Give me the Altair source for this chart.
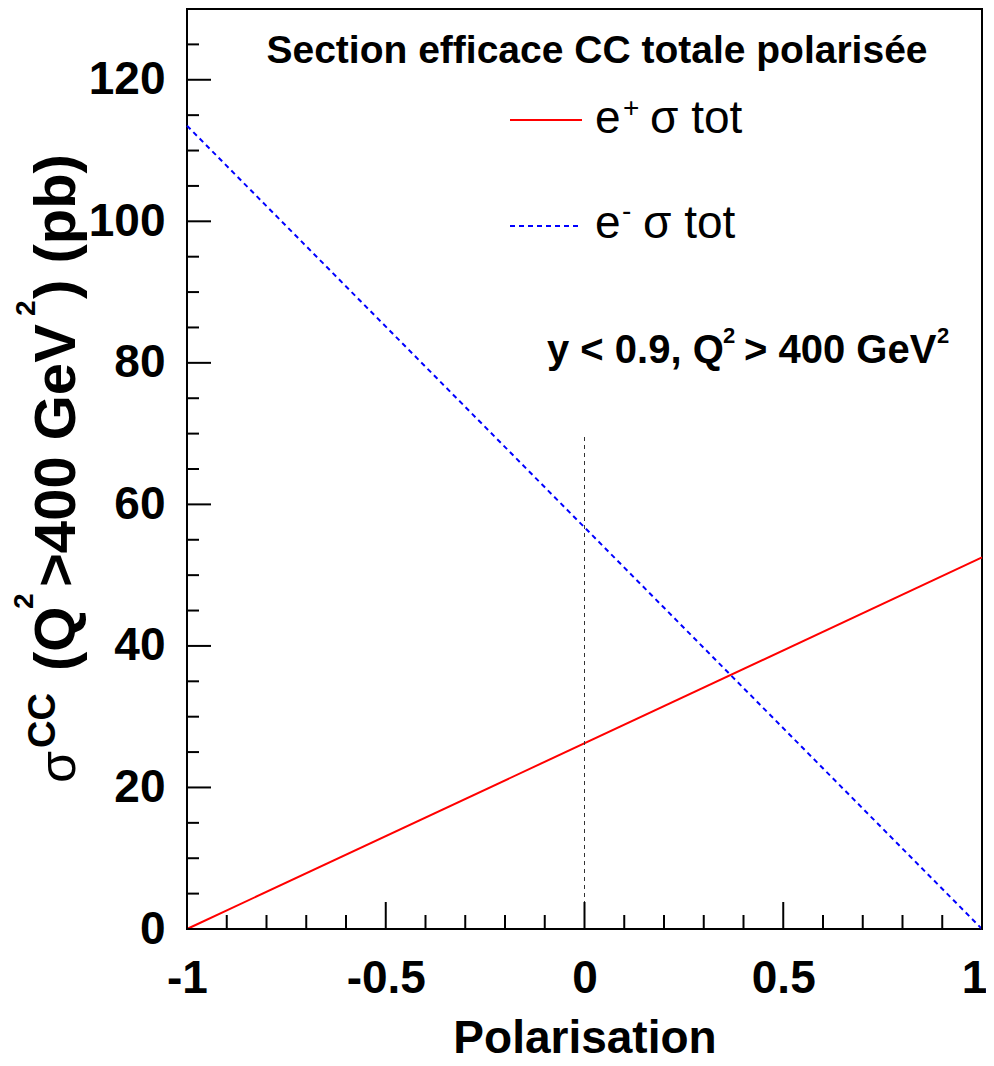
import altair as alt
import pandas as pd

# ---------------- data ----------------
polarisation = [-1.0, 1.0]
sigma_eplus = [0.0, 52.5]
sigma_eminus = [113.5, 0.0]

x_major = [-1, -0.5, 0, 0.5, 1]
x_minor = [-0.9, -0.8, -0.7, -0.6, -0.4, -0.3, -0.2, -0.1,
           0.1, 0.2, 0.3, 0.4, 0.6, 0.7, 0.8, 0.9]
y_major = [0, 20, 40, 60, 80, 100, 120]
y_minor = [5, 10, 15, 25, 30, 35, 45, 50, 55, 65, 70, 75,
           85, 90, 95, 105, 110, 115, 125]
ref_x = [0.0]
ref_y_bottom = [0.0]
ref_y_top = [70.0]

title_text = "Section efficace CC totale polarisée"
cut_text = ["y < 0.9, Q", "2", "> 400 GeV", "2"]
legend_text = [["e", "+", "σ tot"], ["e", "-", "σ tot"]]
ytitle_parts = ["σ", "CC", "(Q", "2", ">400 GeV", "2", ") (pb)"]
x_title = "Polarisation"

FONT = "Liberation Sans"
W, H = 795, 920

xscale = alt.Scale(domain=[-1, 1], nice=False, zero=False)
yscale = alt.Scale(domain=[0, 130], nice=False, zero=True)


def x_axis():
    return alt.Axis(values=x_major, labelExpr="'' + datum.value", ticks=False, tickSize=0,
                    domain=False, grid=False, labelFontSize=46, labelFont=FONT,
                    labelFontWeight="bold", labelColor="black", labelPadding=27,
                    labelFlush=False,
                    labelOffset={"condition": {"test": "datum.value == 1", "value": -8}, "value": 0},
                    title=x_title, titleFontSize=46, titleFont=FONT,
                    titleFontWeight="bold", titleColor="black", titlePadding=15)


def y_axis():
    return alt.Axis(values=y_major, ticks=False, tickSize=0, domain=False, grid=False,
                    labelFontSize=46, labelFont=FONT, labelFontWeight="bold",
                    labelColor="black", labelPadding=22, labelFlush=False, title="")


def X(field):
    return alt.X(field, scale=xscale, axis=x_axis(), title=x_title)


def Y(field):
    return alt.Y(field, scale=yscale, axis=y_axis(), title="")


df_p = pd.DataFrame({"pol": polarisation, "sigma": sigma_eplus})
df_m = pd.DataFrame({"pol": polarisation, "sigma": sigma_eminus})

line_p = alt.Chart(df_p).mark_line(color="#ff0000", strokeWidth=2).encode(
    x=X("pol:Q"), y=Y("sigma:Q"))
line_m = alt.Chart(df_m).mark_line(color="#0000ff", strokeWidth=2, strokeDash=[5, 4]).encode(
    x=X("pol:Q"), y=Y("sigma:Q"))
ref = alt.Chart(pd.DataFrame({"pol": ref_x, "sigma": ref_y_bottom, "top": ref_y_top})).mark_rule(
    color="#333333", strokeWidth=1, strokeDash=[4, 4]).encode(
    x=X("pol:Q"), y=Y("sigma:Q"), y2="top:Q")


def xticks(vals, length):
    return alt.Chart(pd.DataFrame({"pol": vals})).mark_rule(color="black", strokeWidth=2).encode(
        x=X("pol:Q"), y=alt.value(H), y2=alt.value(H - length))


def yticks(vals, length):
    return alt.Chart(pd.DataFrame({"sigma": vals})).mark_rule(color="black", strokeWidth=2).encode(
        y=Y("sigma:Q"), x=alt.value(0), x2=alt.value(length))


def txt(s, x, y, size, weight="bold", angle=0, align="left"):
    return alt.Chart(pd.DataFrame({"t": [s]})).mark_text(
        align=align, baseline="alphabetic", fontSize=size, fontWeight=weight,
        angle=angle, font=FONT, color="black").encode(
        x=alt.value(x), y=alt.value(y), text="t:N")


def legline(x1, x2, y, color, dash=None):
    kw = dict(color=color, strokeWidth=2)
    if dash:
        kw["strokeDash"] = dash
    return alt.Chart(pd.DataFrame({"a": [0]})).mark_rule(**kw).encode(
        x=alt.value(x1), x2=alt.value(x2), y=alt.value(y))


layers = [
    line_p, line_m, ref,
    xticks(x_major, 27), xticks(x_minor, 14),
    yticks(y_major, 24), yticks(y_minor, 12),
    # title
    txt(title_text, 410, 54, 39, align="center"),
    # legend
    legline(323, 395, 111, "#ff0000"),
    legline(323, 395, 217, "#0000ff", [5, 4]),
    txt(legend_text[0][0], 408, 124, 46, weight="normal"),
    txt(legend_text[0][1], 436, 108, 28, weight="normal"),
    txt(legend_text[0][2], 463, 124, 46, weight="normal"),
    txt(legend_text[1][0], 408, 229, 46, weight="normal"),
    txt(legend_text[1][1], 435, 211, 28, weight="normal"),
    txt(legend_text[1][2], 456, 229, 46, weight="normal"),
    # cut text
    txt(cut_text[0], 360, 354, 40),
    txt(cut_text[1], 536, 334, 22),
    txt(cut_text[2], 557, 354, 40),
    txt(cut_text[3], 750, 334, 22),
    # y title pieces (rotated)
    txt(ytitle_parts[0], -112, 774, 52, weight="normal", angle=270),
    txt(ytitle_parts[1], -132, 739, 38, angle=270),
    txt(ytitle_parts[2], -112, 662, 58, angle=270),
    txt(ytitle_parts[3], -154, 600, 28, angle=270),
    txt(ytitle_parts[4], -112, 578, 58, angle=270),
    txt(ytitle_parts[5], -152, 307, 28, angle=270),
    txt(ytitle_parts[6], -112, 290, 58, angle=270),
]

chart = alt.layer(*layers).properties(
    width=W, height=H, autosize="none",
    padding={"left": 179, "top": 1, "right": 4, "bottom": 134},
    background="white",
).configure_view(stroke="black", strokeWidth=2)

chart.save("out.html", embed_options={"renderer": "svg", "actions": False})
